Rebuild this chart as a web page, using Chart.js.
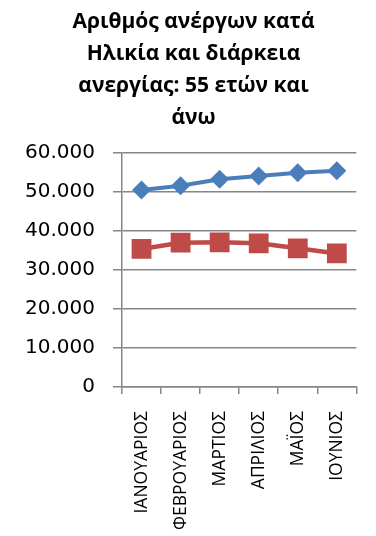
<!DOCTYPE html>
<html>
<head>
<meta charset="utf-8">
<script src="https://cdn.jsdelivr.net/npm/chart.js@4/dist/chart.umd.min.js"></script>
<style>
  html, body { margin: 0; padding: 0; background: #fff; overflow: hidden; }
  #wrap { width: 376px; height: 536px; }
</style>
</head>
<body>
<div id="wrap"><canvas id="c" width="376" height="536"></canvas></div>
<script>
// Unemployed aged 55+ by month, split by unemployment duration
const months = ['ΙΑΝΟΥΑΡΙΟΣ', 'ΦΕΒΡΟΥΑΡΙΟΣ', 'ΜΑΡΤΙΟΣ', 'ΑΠΡΙΛΙΟΣ', 'ΜΑΪΟΣ', 'ΙΟΥΝΙΟΣ'];
const seriesA = [50500, 51600, 53250, 54100, 54950, 55450];
const seriesB = [35400, 37000, 37100, 36850, 35550, 34250];
const yTicks = [0, 10000, 20000, 30000, 40000, 50000, 60000];
const titleLines = ['Αριθμός ανέργων κατά', 'Ηλικία και διάρκεια', 'ανεργίας: 55 ετών και', 'άνω'];

const fmt = v => v === 0 ? '0' : v.toLocaleString('de-DE');

new Chart(document.getElementById('c'), {
  type: 'line',
  data: {
    labels: months,
    datasets: [
      {
        data: seriesA,
        borderColor: '#4a7ebb',
        backgroundColor: '#4a7ebb',
        borderWidth: 4,
        pointStyle: 'rectRot',
        pointRadius: 9.5,
        pointHoverRadius: 9.5,
        pointBorderWidth: 0,
        tension: 0
      },
      {
        data: seriesB,
        borderColor: '#be4b48',
        backgroundColor: '#be4b48',
        borderWidth: 4.5,
        pointStyle: 'rect',
        pointRadius: 14,
        pointHoverRadius: 14,
        pointBorderWidth: 0,
        tension: 0
      }
    ]
  },
  options: {
    responsive: false,
    animation: false,
    events: [],
    layout: { padding: { left: 11, right: 0, top: 0, bottom: 0 } },
    plugins: {
      legend: { display: false },
      tooltip: { enabled: false },
      title: {
        display: true,
        text: titleLines,
        color: '#000',
        font: { family: 'Open Sans', size: 21, weight: 'bold', lineHeight: '32px' },
        padding: { top: 6, bottom: 19 }
      }
    },
    scales: {
      x: {
        offset: true,
        grid: {
          offset: true,
          drawOnChartArea: false,
          drawTicks: true,
          tickLength: 7,
          color: '#868686',
          lineWidth: 1.5
        },
        border: { color: '#868686', width: 1.5 },
        ticks: {
          color: '#000',
          font: { family: 'Open Sans', size: 17.5 },
          maxRotation: 90,
          minRotation: 90,
          padding: 17,
          autoSkip: false
        },
        afterFit: s => { s.height = 149; }
      },
      y: {
        min: 0,
        max: 60000,
        afterBuildTicks: s => { s.ticks = yTicks.map(v => ({ value: v })); },
        grid: {
          drawOnChartArea: true,
          drawTicks: true,
          tickLength: 9,
          color: '#868686',
          lineWidth: 1.5
        },
        border: { color: '#868686', width: 1.5 },
        ticks: {
          color: '#000',
          font: { family: 'DejaVu Sans', size: 20 },
          padding: 18,
          callback: v => fmt(v)
        },
        afterFit: s => { s.width = 111; }
      }
    }
  }
});
</script>
</body>
</html>
